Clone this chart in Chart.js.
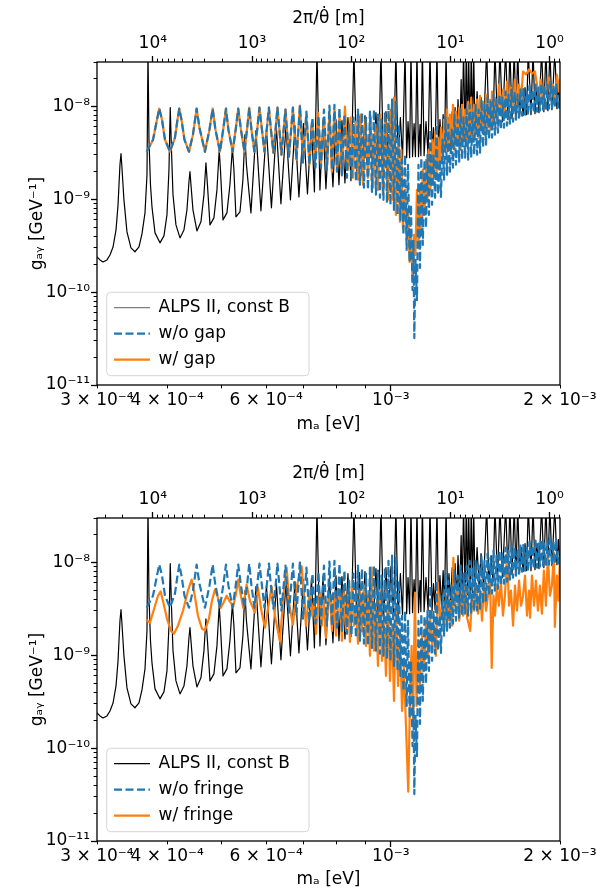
<!DOCTYPE html>
<html>
<head>
<meta charset="utf-8">
<script src="https://cdn.jsdelivr.net/npm/chart.js@4.4.1/dist/chart.umd.min.js"></script>
<style>
  body { margin: 0; background: #fff; }
  #wrap { position: relative; width: 597px; height: 895px; }
  canvas { position: absolute; left: 0; }
</style>
</head>
<body>
<div id="wrap">
  <canvas id="panelTop" width="597" height="450" style="top:0"></canvas>
  <canvas id="panelBottom" width="597" height="445" style="top:450px"></canvas>
</div>
<script>
// axion mass in units of 1e-4 eV, coupling in units of 1e-9 GeV^-1

// ALPS II, const B (same curve in both panels)
const alpsMass = [
  3.000, 3.037, 3.075, 3.125, 3.164, 3.204, 3.243, 3.270, 3.296, 3.310,
  3.323, 3.350, 3.392, 3.448, 3.505, 3.563, 3.607, 3.652, 3.682, 3.697,
  3.712, 3.735, 3.758, 3.805, 3.883, 3.947, 3.996, 4.029, 4.050, 4.070,
  4.096, 4.146, 4.215, 4.284, 4.337, 4.373, 4.391, 4.409, 4.445, 4.518,
  4.593, 4.650, 4.688, 4.717, 4.766, 4.844, 4.904, 4.950, 4.975, 5.027,
  5.109, 5.172, 5.225, 5.257, 5.301, 5.389, 5.455, 5.500, 5.534,
  5.637, 5.754, 5.873, 6.007, 6.131, 6.258, 6.374, 6.507, 6.628, 6.751,
  6.862, 6.990, 7.106, 7.224, 7.312, 7.388, 7.479, 7.572, 7.665, 7.776,
  7.888, 7.987, 8.085, 8.185, 8.286, 8.388, 8.493, 8.597, 8.704, 8.793,
  8.884, 8.994, 9.105, 9.199, 9.294, 9.408, 9.506, 9.603, 9.703, 9.802,
  9.904, 10.005, 10.11, 10.21, 10.30, 10.40, 10.49, 10.60, 10.67, 10.73,
  10.80, 10.86, 10.93, 11.00, 11.06, 11.13, 11.20, 11.27, 11.31, 11.38,
  11.46, 11.55, 11.65, 11.74, 11.84, 11.91, 11.99, 12.08, 12.16, 12.23,
  12.31, 12.39, 12.46, 12.54, 12.62, 12.69, 12.77, 12.86, 12.93, 13.01,
  13.09, 13.17, 13.25, 13.34, 13.39, 13.47, 13.56, 13.62, 13.70, 13.75,
  13.84, 13.90, 13.98, 14.04,
  14.12, 14.24, 14.36, 14.47, 14.62, 14.81, 14.95, 15.08, 15.20, 15.32,
  15.48, 15.64, 15.80, 16.01, 16.16, 16.29, 16.43, 16.58, 16.70, 16.82,
  16.95, 17.08, 17.19, 17.33, 17.44, 17.56, 17.76, 17.91, 18.05, 18.20,
  18.35, 18.55, 18.72, 18.88, 19.03, 19.19, 19.35, 19.58, 19.75, 19.87,
  20.00
];
const alpsCoupling = [
  0.239, 0.222, 0.211, 0.222, 0.251, 0.306, 0.467, 0.870, 2.35, 3.09,
  2.18, 0.985, 0.445, 0.299, 0.272, 0.306, 0.423, 0.713, 1.83, 40,
  4.37, 1.43, 0.828, 0.434, 0.339, 0.403, 0.678, 2.08, 9.68, 3.41,
  1.12, 0.529, 0.383, 0.467, 0.768, 1.54, 1.98, 1.43, 0.768, 0.456,
  0.571, 1.12, 2.47, 1.43, 0.529, 0.630, 1.26, 3.41, 2.08, 0.599,
  0.713, 1.43, 3.59, 2.08, 0.646, 0.731, 1.62, 4.95, 2.35,
  0.713, 5.47, 0.750, 5.61, 0.808, 5.89, 0.892, 6.04, 0.985, 6.19,
  1.06, 6.51, 1.14, 6.67, 1.20, 40, 1.26, 7.01, 1.295, 6.84,
  1.36, 7.19, 1.43, 7.01, 1.50, 7.56, 1.58, 40, 1.70, 7.75,
  1.79, 7.94, 1.98, 8.34, 2.08, 8.55, 2.18, 40, 2.29, 8.77,
  2.41, 8.97, 2.53, 40, 2.66, 7.56, 2.73, 40, 2.80, 6.84,
  2.80, 40, 2.87, 6.51, 2.87, 40, 2.87, 6.35, 2.94, 40,
  2.94, 6.84, 3.01, 40, 3.01, 5.89, 3.09, 40, 3.17, 7.19,
  3.25, 8.14, 3.41, 40, 3.59, 7.56, 3.77, 8.77, 3.86, 9.68,
  3.96, 11.8, 4.06, 19.4, 4.16, 40, 4.37, 40, 4.48, 40,
  4.60, 40, 4.71, 40,
  5.08, 14.4, 5.33, 12.4, 5.61, 40, 5.89, 11.8, 6.19, 40,
  6.51, 40, 6.84, 40, 7.19, 40, 7.37, 40, 7.56, 40,
  7.75, 14.4, 7.94, 15.9, 8.14, 40, 8.14, 40, 8.34, 15.9,
  8.55, 40, 8.77, 40, 8.97, 40, 9.21, 40, 9.45, 17.6,
  9.45
];

// w/o gap = w/o fringe (same curve in both panels)
const idealMass = [
  3.677, 3.774, 3.836, 3.872, 3.915, 3.964, 4.045, 4.129, 4.172, 4.203,
  4.241, 4.293, 4.373, 4.445, 4.512, 4.565, 4.669, 4.756, 4.819, 4.874,
  4.965, 5.037, 5.089, 5.140, 5.230, 5.301, 5.351, 5.411, 5.489, 5.552,
  5.598, 5.649, 5.718, 5.789, 5.837, 5.897, 5.958, 6.019, 6.068, 6.118,
  6.181, 6.240, 6.284, 6.335, 6.387, 6.493, 6.587, 6.695, 6.792,
  6.891, 6.976, 7.076, 7.164, 7.253, 7.342, 7.433, 7.510, 7.603, 7.697,
  7.776, 7.856, 7.937, 8.019, 8.101, 8.185, 8.269, 8.354, 8.423, 8.510,
  8.580, 8.669, 8.740, 8.811, 8.884, 8.957, 9.031, 9.105, 9.180, 9.256,
  9.332, 9.408, 9.486, 9.564, 9.623, 9.703, 9.762, 9.843, 9.904, 9.984,
  10.05, 10.13, 10.20, 10.28, 10.34, 10.40, 10.47, 10.53, 10.60, 10.67,
  10.73, 10.80, 10.86, 10.93, 10.97, 11.01, 11.06, 11.13, 11.20, 11.27,
  11.33, 11.40, 11.48, 11.55, 11.62, 11.69, 11.76, 11.84, 11.91, 11.99,
  12.06, 12.13, 12.23, 12.28, 12.36, 12.44, 12.51, 12.59, 12.66, 12.74,
  12.83, 12.90, 12.98, 13.06, 13.15, 13.23, 13.31, 13.39, 13.47, 13.56,
  13.64, 13.73, 13.81, 13.90, 13.98, 14.07, 14.15, 14.24, 14.33, 14.41,
  14.50, 14.59, 14.68, 14.77, 14.86, 14.95, 15.05, 15.14, 15.23, 15.32,
  15.42, 15.51, 15.61, 15.70, 15.80, 15.90, 16.00, 16.10, 16.19, 16.29,
  16.39, 16.50, 16.60, 16.70, 16.81, 16.91, 17.01, 17.12, 17.22, 17.33,
  17.44, 17.54, 17.65, 17.76, 17.87, 17.98, 18.09, 18.20, 18.31, 18.42,
  18.53, 18.65, 18.76, 18.88, 19.00, 19.11, 19.23, 19.35, 19.47, 19.58,
  19.70, 19.83, 20.00
];
const idealCoupling = [
  3.25, 4.37, 7.19, 9.45, 7.19, 4.37, 3.25, 4.60, 7.19, 9.45,
  7.19, 4.37, 3.25, 4.95, 9.45, 5.89, 3.25, 5.61, 9.45, 5.61,
  3.25, 5.89, 9.45, 5.61, 3.25, 5.89, 9.45, 5.61, 3.25, 5.89,
  9.68, 5.61, 3.25, 5.89, 9.68, 5.61, 3.25, 5.89, 9.68, 5.61,
  3.17, 5.89, 9.68, 5.61, 3.01, 9.21, 2.87, 9.68, 2.66,
  10.2, 2.47, 8.77, 2.35, 7.56, 2.18, 7.94, 2.18, 9.21, 2.08,
  10.2, 2.08, 10.4, 1.98, 9.68, 1.83, 8.14, 1.70, 6.35, 1.62,
  7.56, 1.54, 9.21, 1.43, 8.55, 1.33, 7.56, 1.26, 8.77, 1.20,
  9.21, 1.12, 8.14, 1.04, 7.19, 0.985, 8.77, 0.915, 10.4, 0.870,
  11.8, 0.768, 11.2, 0.678, 6.35, 0.599, 2.66, 0.413, 3.01, 0.284,
  2.35, 0.211, 0.870, 0.105, 0.365, 0.032, 0.222, 0.082, 2.35, 0.182,
  2.80, 0.322, 2.66, 0.491, 3.01, 0.678, 5.61, 0.870, 3.01, 1.035,
  6.35, 1.12, 2.66, 1.06, 4.37, 1.62, 7.56, 1.83, 6.35, 1.98,
  5.61, 2.18, 8.14, 2.35, 7.19, 2.53, 9.21, 2.66, 7.56, 2.80,
  9.21, 2.66, 10.4, 2.80, 8.77, 3.01, 10.4, 3.01, 9.21, 3.17,
  11.8, 3.59, 10.4, 3.86, 12.4, 4.37, 11.2, 4.60, 13.4, 4.95,
  11.8, 5.20, 13.4, 5.61, 12.4, 5.89, 14.4, 6.19, 13.4, 6.51,
  15.1, 6.84, 14.4, 7.19, 13.4, 7.56, 15.1, 7.94, 15.9, 8.14,
  14.4, 8.34, 16.7, 8.55, 15.1, 8.77, 17.1, 8.77, 15.9, 8.97,
  17.6, 9.21, 15.9, 9.21, 17.1, 9.45, 18.5, 9.45, 16.7, 9.68,
  17.6, 9.68, 13.4
];

// w/ gap (upper panel)
const gapMass = [
  3.677, 3.774, 3.836, 3.872, 3.915, 3.964, 4.045, 4.129, 4.172, 4.203,
  4.241, 4.293, 4.373, 4.445, 4.512, 4.565, 4.669, 4.756, 4.819, 4.874,
  4.965, 5.037, 5.089, 5.140, 5.230, 5.301, 5.351, 5.411, 5.489, 5.552,
  5.598, 5.649, 5.718, 5.789, 5.837, 5.897, 5.958, 6.019, 6.068, 6.118,
  6.181, 6.240, 6.284, 6.335, 6.387, 6.493, 6.587, 6.695, 6.792,
  6.891, 6.976, 7.076, 7.164, 7.253, 7.342, 7.418, 7.510, 7.603, 7.697,
  7.776, 7.856, 7.937, 8.019, 8.101, 8.185, 8.286, 8.388, 8.475, 8.562,
  8.651, 8.740, 8.829, 8.920, 9.012, 9.105, 9.199, 9.294, 9.389, 9.486,
  9.584, 9.683, 9.782, 9.884, 9.984, 10.07, 10.13, 10.21, 10.30, 10.38,
  10.44, 10.51, 10.60, 10.67, 10.73, 10.80, 10.86, 10.93, 11.00, 11.06,
  11.13, 11.20, 11.27, 11.33, 11.40, 11.48, 11.55, 11.62, 11.69, 11.76,
  11.84, 11.91, 11.99, 12.06, 12.13, 12.21, 12.28, 12.36, 12.44, 12.51,
  12.59, 12.66, 12.74, 12.83, 12.90, 12.98, 13.06, 13.15, 13.23, 13.31,
  13.39, 13.47, 13.56, 13.64, 13.73, 13.81, 13.90, 13.98, 14.07, 14.15,
  14.24, 14.33, 14.41, 14.50, 14.59, 14.68, 14.77, 14.86, 14.95, 15.05,
  15.14, 15.23, 15.32, 15.45, 15.57, 15.70, 15.83, 15.96, 16.10, 16.23,
  16.36, 16.50, 16.63, 16.77, 16.91, 17.05, 17.19, 17.40, 17.62, 17.83,
  18.05, 18.20, 18.35, 18.50, 18.65, 18.80, 18.96, 19.11, 19.27, 19.43,
  19.58, 19.75, 19.92, 20.00
];
const gapCoupling = [
  3.25, 4.37, 7.19, 9.45, 7.19, 4.37, 3.25, 4.60, 7.19, 9.45,
  7.19, 4.37, 3.25, 4.95, 9.45, 5.89, 3.25, 5.61, 9.45, 5.61,
  3.25, 5.89, 9.45, 5.61, 3.25, 5.89, 9.45, 5.61, 3.25, 5.89,
  9.68, 5.61, 3.25, 5.89, 9.68, 5.61, 3.25, 5.89, 9.68, 5.61,
  3.17, 5.89, 9.68, 5.61, 3.01, 9.21, 2.87, 9.68, 2.66,
  10.2, 2.66, 8.14, 2.35, 6.35, 2.66, 8.55, 2.35, 7.56, 2.18,
  8.77, 1.98, 9.21, 2.08, 8.14, 1.79, 9.93, 2.08, 7.56, 1.70,
  6.84, 1.62, 8.14, 1.43, 7.19, 1.70, 7.56, 1.33, 6.35, 1.26,
  8.14, 1.12, 7.56, 0.985, 9.21, 0.985, 12.4, 0.678, 4.37, 0.571,
  3.41, 0.491, 1.26, 0.365, 0.768, 0.211, 0.467, 0.135, 0.413, 0.251,
  1.26, 0.322, 1.43, 0.445, 2.08, 0.678, 2.66, 0.985, 3.41, 1.26,
  4.37, 1.70, 5.33, 1.83, 4.60, 2.18, 5.89, 2.66, 7.19, 3.25,
  9.21, 3.41, 8.14, 3.59, 10.4, 3.41, 8.77, 3.86, 9.68, 3.41,
  10.4, 4.37, 9.21, 3.86, 11.2, 4.60, 12.4, 4.37, 10.4, 4.95,
  11.8, 4.60, 13.0, 5.61, 11.2, 4.95, 13.4, 5.89, 11.8, 5.61,
  14.4, 6.35, 12.4, 7.19, 17.1, 8.77, 15.1, 8.14, 18.5, 9.21,
  15.9, 8.77, 19.4, 9.68, 17.1, 11.8, 23.7, 22.0, 25.0, 22.5,
  23.7, 17.1, 11.8, 19.4, 10.4, 15.9, 13.4, 20.4, 11.8, 17.1,
  10.4, 22.0, 14.4, 19.4
];

// w/ fringe (lower panel)
const fringeMass = [
  3.667, 3.727, 3.805, 3.852, 3.894, 3.931, 3.996, 4.062, 4.112, 4.180,
  4.267, 4.355, 4.422, 4.463, 4.537, 4.612, 4.669, 4.746, 4.805, 4.864,
  4.924, 4.979, 5.037, 5.103, 5.172, 5.242, 5.301, 5.351, 5.400, 5.462,
  5.538, 5.614, 5.730, 5.801, 5.885, 5.970, 6.056, 6.136, 6.219, 6.348,
  6.440, 6.525, 6.601, 6.695, 6.806, 6.939, 7.004, 7.062, 7.120, 7.179,
  7.238, 7.297, 7.357, 7.418, 7.479, 7.541, 7.603, 7.665, 7.729, 7.792,
  7.856, 7.921, 7.987, 8.052, 8.118, 8.185, 8.252, 8.320, 8.388, 8.458,
  8.527, 8.597, 8.669, 8.740, 8.811, 8.884, 8.957, 9.031, 9.105, 9.180,
  9.244, 9.332, 9.408, 9.486, 9.564, 9.643, 9.723, 9.802, 9.884, 9.964,
  10.05, 10.13, 10.21, 10.30, 10.38, 10.47, 10.55, 10.64, 10.74, 10.82,
  10.89, 10.95, 11.04, 11.11, 11.18, 11.27, 11.36, 11.46, 11.55, 11.65,
  11.74, 11.84, 11.94, 12.03, 12.13, 12.23, 12.34, 12.44, 12.54, 12.64,
  12.74, 12.86, 12.92, 13.01, 13.12, 13.23, 13.34, 13.45, 13.56, 13.67,
  13.84, 13.95, 14.07, 14.18, 14.30, 14.41, 14.53, 14.65, 14.77, 14.89,
  15.02, 15.12, 15.23, 15.32, 15.45, 15.57, 15.70, 15.83, 15.96, 16.10,
  16.23, 16.36, 16.50, 16.63, 16.77, 16.91, 17.05, 17.19, 17.33, 17.47,
  17.62, 17.69, 17.83, 17.98, 18.12, 18.27, 18.42, 18.57, 18.72, 18.88,
  19.03, 19.19, 19.35, 19.51, 19.58, 19.75, 19.87, 20.00
];
const fringeCoupling = [
  2.41, 2.24, 3.41, 4.37, 4.87, 3.86, 2.47, 1.83, 1.70, 2.08,
  3.01, 4.95, 6.51, 4.95, 2.66, 1.93, 1.85, 2.47, 3.86, 5.08,
  4.16, 3.22, 3.67, 4.37, 3.77, 3.36, 4.60, 6.51, 4.60, 3.25,
  5.75, 3.86, 2.87, 5.33, 3.01, 1.98, 3.41, 5.51, 2.66, 1.41,
  4.37, 8.77, 3.41, 2.13, 5.61, 9.06, 4.37, 2.08, 3.41, 4.95,
  2.66, 3.86, 1.70, 3.41, 4.60, 2.08, 3.86, 1.54, 3.41, 4.37,
  1.83, 4.37, 1.62, 3.59, 4.60, 1.43, 5.61, 1.83, 4.37, 1.39,
  6.35, 2.08, 3.41, 1.33, 4.95, 1.83, 5.61, 1.26, 4.37, 0.985,
  8.77, 1.12, 3.41, 0.768, 4.95, 0.870, 2.66, 0.599, 4.37, 0.529,
  2.08, 0.322, 3.41, 0.467, 1.83, 0.251, 0.768, 0.173, 0.0339, 0.365,
  1.26, 0.173, 4.71, 0.284, 0.985, 0.467, 1.62, 0.678, 2.35, 0.985,
  2.66, 1.26, 2.08, 0.985, 6.04, 2.35, 3.41, 1.98, 4.37, 2.35,
  3.86, 2.08, 11.2, 3.41, 5.61, 2.35, 4.95, 2.66, 5.89, 2.53,
  1.83, 4.37, 3.01, 5.61, 2.80, 4.95, 2.35, 5.89, 3.01, 4.37,
  6.51, 0.731, 4.37, 2.66, 5.61, 3.41, 6.19, 2.66, 4.37, 12.1,
  3.41, 4.95, 2.08, 5.61, 3.01, 6.35, 3.41, 4.37, 7.19, 2.66,
  4.95, 2.53, 7.19, 3.41, 6.35, 3.01, 5.61, 2.80, 8.14, 3.41,
  12.1, 4.37, 5.61, 12.7, 2.02, 7.19, 3.86, 11.6
];

// axes
const massTicks = [3e-4, 4e-4, 5e-4, 6e-4, 7e-4, 8e-4, 9e-4, 1e-3, 2e-3];
const massTickLabels = ['3 × 10⁻⁴', '4 × 10⁻⁴', '', '6 × 10⁻⁴', '', '', '', '10⁻³', '2 × 10⁻³'];
const couplingDecades = [1e-11, 1e-10, 1e-9, 1e-8];
const couplingDecadeLabels = ['10⁻¹¹', '10⁻¹⁰', '10⁻⁹', '10⁻⁸'];
const lengthDecades = [0.1, 1, 10, 100, 1000, 10000];
const lengthDecadeLabels = ['', '10⁰', '10¹', '10²', '10³', '10⁴'];
const minorSteps = [2, 3, 4, 5, 6, 7, 8, 9];

Chart.defaults.font.family = "'DejaVu Sans', sans-serif";
Chart.defaults.font.size = 17;
Chart.defaults.color = '#000';

const toPoints = (mass, coupling) => mass.map((m, i) => ({ x: m * 1e-4, y: coupling[i] * 1e-9 }));

function logTicks(decades, labels, lo, hi) {
  const out = [];
  decades.forEach((d, i) => {
    out.push({ value: d, major: true, text: labels[i] });
    minorSteps.forEach(s => out.push({ value: s * d, major: false, text: '' }));
  });
  return out.filter(t => t.value >= lo * 0.9999 && t.value <= hi * 1.0001)
            .sort((a, b) => a.value - b.value);
}

const panelDecor = {
  id: 'panelDecor',
  afterLayout(chart) {
    const a = chart.chartArea, lg = chart.legend;
    lg.left = a.left + 8; lg.right = a.right;
    lg.top = a.top; lg.bottom = a.bottom - 7.8;
    lg.width = lg.right - lg.left; lg.height = lg.bottom - lg.top;
  },
  beforeDraw(chart) {
    const boxes = chart.legend.legendHitBoxes;
    if (!boxes || !boxes.length) return;
    const l = Math.min(...boxes.map(b => b.left)) - 7.3;
    const r = Math.max(...boxes.map(b => b.left + b.width)) + 19;
    const t = Math.min(...boxes.map(b => b.top)) - 6.9;
    const btm = Math.max(...boxes.map(b => b.top + b.height)) + 7.5;
    const ctx = chart.ctx, rad = 4;
    ctx.save();
    ctx.beginPath();
    ctx.moveTo(l + rad, t);
    ctx.arcTo(r, t, r, btm, rad);
    ctx.arcTo(r, btm, l, btm, rad);
    ctx.arcTo(l, btm, l, t, rad);
    ctx.arcTo(l, t, r, t, rad);
    ctx.closePath();
    ctx.fillStyle = 'rgba(255,255,255,0.8)';
    ctx.fill();
    ctx.strokeStyle = '#d6d6d6';
    ctx.lineWidth = 1;
    ctx.stroke();
    ctx.restore();
  },
  afterDatasetsDraw(chart) {
    const a = chart.chartArea, ctx = chart.ctx;
    ctx.save();
    ctx.strokeStyle = '#000';
    ctx.lineWidth = 1.3;
    ctx.strokeRect(a.left, a.top, a.right - a.left, a.bottom - a.top);
    ctx.restore();
  }
};

function drawPanel(p) {
  const yTicks = logTicks(couplingDecades, couplingDecadeLabels, 1e-11, 3e-8);
  const topTicks = logTicks(lengthDecades, lengthDecadeLabels, 0.785, 36560);
  const outerDash = c => (c.tick && c.tick.major) ? [] : [0, 2.6, 3.4, 100];
  const innerDash = c => (c.tick && c.tick.major) ? [] : [3.4, 100];
  const tickW = c => (c.tick && c.tick.major) ? 1.3 : 1;

  new Chart(document.getElementById(p.id), {
    type: 'line',
    data: {
      datasets: [
        { label: 'ALPS II, const B', data: toPoints(alpsMass, alpsCoupling),
          borderColor: '#000', borderWidth: 1.2, order: 3, legendColor: p.alpsLegend },
        { label: p.idealLabel, data: toPoints(idealMass, idealCoupling),
          borderColor: '#1f77b4', borderWidth: 2.2, borderDash: [8, 3.5], order: 1 },
        { label: p.label, data: toPoints(p.mass, p.coupling),
          borderColor: '#ff7f0e', borderWidth: 2.2, order: 2 }
      ]
    },
    options: {
      responsive: false,
      animation: false,
      devicePixelRatio: 1,
      events: [],
      parsing: false,
      normalized: true,
      layout: { padding: { left: 0, right: 37, top: 0, bottom: 0 } },
      elements: {
        point: { radius: 0 },
        line: { borderJoinStyle: 'round', fill: false, tension: 0 }
      },
      scales: {
        x: {
          type: 'logarithmic', position: 'bottom', min: 3e-4, max: 2e-3,
          afterBuildTicks: s => { s.ticks = massTicks.map((v, i) => ({ value: v, major: v === 1e-3, text: massTickLabels[i] })); },
          afterFit: s => { s.height = p.axisBottom; s.paddingLeft = 0; s.paddingRight = 0; },
          ticks: { autoSkip: false, maxRotation: 0, padding: -1, callback: (v, i, t) => t[i].text },
          grid: { drawOnChartArea: false, tickLength: 6, tickColor: '#000', tickWidth: tickW, tickBorderDash: innerDash },
          border: { display: false },
          title: { display: true, text: 'mₐ [eV]', padding: { top: 0, bottom: p.bottomTitlePad } }
        },
        xTop: {
          type: 'logarithmic', position: 'top', reverse: true, min: 0.785, max: 36560,
          afterBuildTicks: s => { s.ticks = topTicks.map(t => ({ ...t })); },
          afterFit: s => { s.height = p.axisTop; s.paddingLeft = 0; s.paddingRight = 0; },
          ticks: { autoSkip: false, maxRotation: 0, padding: 1.8, callback: (v, i, t) => t[i].text },
          grid: { drawOnChartArea: false, tickLength: 6, tickColor: '#000', tickWidth: tickW, tickBorderDash: outerDash },
          border: { display: false },
          title: { display: true, text: '2π/θ̇ [m]', padding: { top: p.topTitlePad, bottom: 0 } }
        },
        y: {
          type: 'logarithmic', position: 'left', min: 1e-11, max: 3e-8,
          afterBuildTicks: s => { s.ticks = yTicks.map(t => ({ ...t })); },
          afterFit: s => { s.width = 97; s.paddingTop = 0; s.paddingBottom = 0; },
          ticks: { autoSkip: false, padding: 1, callback: (v, i, t) => t[i].text },
          grid: { drawOnChartArea: false, tickLength: 6, tickColor: '#000', tickWidth: tickW, tickBorderDash: outerDash },
          border: { display: false },
          title: { display: true, text: 'gₐᵧ [GeV⁻¹]', padding: { top: 27, bottom: 0 } }
        }
      },
      plugins: {
        tooltip: { enabled: false },
        legend: {
          position: 'chartArea',
          align: 'end',
          labels: {
            usePointStyle: true,
            pointStyle: 'line',
            pointStyleWidth: 36,
            padding: 9,
            color: '#000',
            sort: (a, b) => a.datasetIndex - b.datasetIndex,
            generateLabels(chart) {
              const items = Chart.defaults.plugins.legend.labels.generateLabels(chart);
              items.forEach(it => {
                const ds = chart.data.datasets[it.datasetIndex];
                it.lineWidth = ds.borderWidth;
                it.strokeStyle = ds.legendColor || ds.borderColor;
                it.lineDash = ds.borderDash || [];
                it.lineCap = 'butt';
              });
              return items;
            }
          }
        }
      }
    },
    plugins: [panelDecor]
  });
}

const panels = [
  { id: 'panelTop', axisTop: 62, axisBottom: 65, topTitlePad: 8, bottomTitlePad: 15.5,
    idealLabel: 'w/o gap', label: 'w/ gap', mass: gapMass, coupling: gapCoupling, alpsLegend: '#7f7f7f' },
  { id: 'panelBottom', axisTop: 68, axisBottom: 54, topTitlePad: 13.8, bottomTitlePad: 4.8,
    idealLabel: 'w/o fringe', label: 'w/ fringe', mass: fringeMass, coupling: fringeCoupling, alpsLegend: '#000' }
];
panels.forEach(drawPanel);
</script>
</body>
</html>
